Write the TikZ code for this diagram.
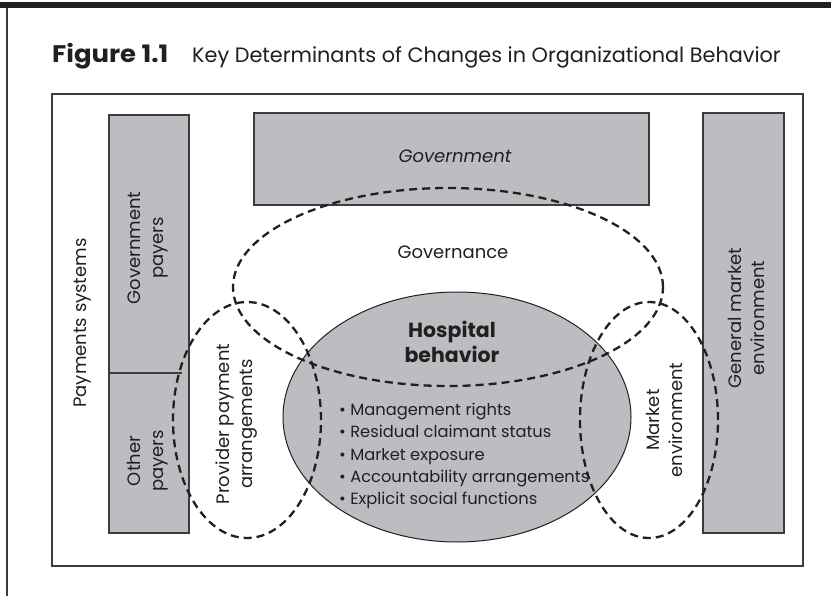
\documentclass[tikz,border=0pt]{standalone}
\usepackage{fontspec}
\setmainfont{Poppins}
\definecolor{boxgray}{RGB}{188,189,193}
\definecolor{linegray}{RGB}{60,60,60}
\definecolor{txt}{RGB}{35,31,32}
\tikzset{
  graybox/.style={draw=linegray, fill=boxgray, line width=1.1pt},
  framebox/.style={draw=linegray, line width=1.1pt},
  dashell/.style={draw=txt, dash pattern=on 8pt off 5pt, line width=2.3pt},
  hospell/.style={draw=txt, fill=boxgray, line width=1pt},
  lbl/.style={text=txt, align=center, inner sep=0pt, font=\fontsize{18}{23}\selectfont},
  blbl/.style={text=txt, align=center, inner sep=0pt, font=\fontsize{20.5}{25}\selectfont\bfseries},
}
\begin{document}
\begin{tikzpicture}[x=1pt,y=-1pt]
\useasboundingbox (0,0) rectangle (831,596);
\fill[white] (0,0) rectangle (831,596);
% top bar and left rule
\fill[txt] (0,2) rectangle (831,8.5);
\draw[framebox] (7,8) -- (7,596);
% title
\node[anchor=base west, inner sep=0pt, text=txt, font=\fontsize{24}{28}\selectfont\bfseries\addfontfeature{FakeStretch=1.08}] (fig) at (52,63) {Figure 1.1};
\node[anchor=base west, inner sep=0pt, text=txt, font=\fontsize{20.8}{28}\selectfont] (ttl) at (192,63) {Key Determinants of Changes in Organizational Behavior};
% frame
\draw[framebox] (52,94) rectangle (803,566);
% gray boxes
\draw[graybox] (109,115) rectangle (189,533);
\draw[linegray, line width=1.1pt] (109,373) -- (182,373);
\draw[graybox] (254,113) rectangle (649,205);
\draw[graybox] (703,113) rectangle (784,533);
% hospital ellipse
\draw[hospell] (457,417) ellipse [x radius=174pt, y radius=125pt];
% labels
\node[lbl, rotate=90] (pay) at (83,323) {Payments systems};
\node[lbl, rotate=90] (gpay) at (148,248) {Government\\payers};
\node[lbl, rotate=90] (opay) at (148,461) {Other\\payers};
\node[lbl, rotate=90] (prov) at (237,424) {Provider payment\\arrangements};
\node[lbl, font=\fontsize{18}{23}\selectfont\itshape] (gov) at (455,156) {Government};
\node[lbl] (gvn) at (453,252) {Governance};
\node[blbl] (hosp) at (452,342) {Hospital\\behavior};
\node[lbl, align=left, anchor=north west, font=\fontsize{16.3}{22.3}\selectfont] (list) at (339,403)
  {\textbullet\ Management rights\\
   \textbullet\ Residual claimant status\\
   \textbullet\ Market exposure\\
   \textbullet\ Accountability arrangements\\
   \textbullet\ Explicit social functions};
\node[lbl, rotate=90] (mkt) at (664,420) {Market\\environment};
\node[lbl, rotate=90] (gme) at (746,318) {General market\\environment};
% dashed ellipses
\draw[dashell] (448,287) ellipse [x radius=215pt, y radius=99pt];
\draw[dashell] (247,420) ellipse [x radius=74pt, y radius=118pt];
\draw[dashell] (649,420) ellipse [x radius=69pt, y radius=118pt];
\end{tikzpicture}
\end{document}
